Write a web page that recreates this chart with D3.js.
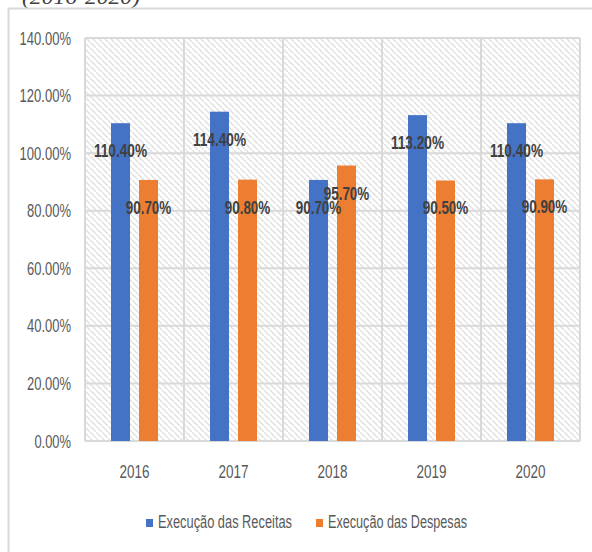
<!DOCTYPE html>
<html><head><meta charset="utf-8">
<script src="https://cdn.jsdelivr.net/npm/d3@7"></script>
<style>body{margin:0;background:#fff}svg{display:block}</style>
</head><body>
<script>
const years = ["2016","2017","2018","2019","2020"];
const seriesNames = ["Execução das Receitas","Execução das Despesas"];
const receitas = [110.4, 114.4, 90.7, 113.2, 110.4];
const despesas = [90.7, 90.8, 95.7, 90.5, 90.9];
const yTicks = [0,20,40,60,80,100,120,140];
const colors = ["#4472C4","#ED7D31"];
const title = "(2016-2020)";

const W=592,H=552;
const svg=d3.select("body").append("svg").attr("width",W).attr("height",H);
const defs=svg.append("defs");
const pat=defs.append("pattern").attr("id","hatch").attr("patternUnits","userSpaceOnUse")
  .attr("width",6).attr("height",6);
pat.append("rect").attr("width",6).attr("height",6).attr("fill","#fff");
pat.append("path").attr("d","M-1.5,-1.5L1.5,1.5M0,0L6,6M4.5,4.5L7.5,7.5")
  .attr("stroke","#e0e0e0").attr("stroke-width",1.4);

// title (clipped at top)
svg.append("text").attr("x",22).attr("y",4).attr("font-family","Liberation Serif, serif")
  .attr("font-style","italic").attr("font-size",22).attr("fill","#404040")
  .attr("textLength",118).attr("lengthAdjust","spacingAndGlyphs").text(title);

// outer frame
svg.append("path").attr("d","M8.5,552V8.5H592").attr("fill","none").attr("stroke","#d9d9d9").attr("stroke-width",2);

const x=d3.scaleBand().domain(years).range([85,580]).padding(0);
const xs=d3.scaleBand().domain([0,1]).range([0,x.bandwidth()]).paddingInner(9/28).paddingOuter(0.9286);
const y=d3.scaleLinear().domain([0,140]).range([441,38]);

// plot background
svg.append("rect").attr("x",85).attr("y",y(140)).attr("width",495).attr("height",y(0)-y(140)).attr("fill","url(#hatch)");

// gridlines
const g=svg.append("g");
g.selectAll(".hg").data(yTicks).join("line").attr("x1",85).attr("x2",580)
  .attr("y1",d=>y(d)).attr("y2",d=>y(d)).attr("stroke","#d9d9d9").attr("stroke-width",2);
g.selectAll(".vg").data(years.concat(["end"])).join("line")
  .attr("x1",(d,i)=>i<years.length?x(d):x(years[years.length-1])+x.bandwidth())
  .attr("x2",(d,i)=>i<years.length?x(d):x(years[years.length-1])+x.bandwidth())
  .attr("y1",y(140)).attr("y2",y(0)).attr("stroke","#d9d9d9").attr("stroke-width",2);

// y axis labels
svg.append("g").selectAll("text").data(yTicks).join("text")
  .attr("x",71).attr("y",d=>y(d)+6.5).attr("text-anchor","end")
  .attr("font-family","Liberation Sans Narrow, Liberation Sans, sans-serif").attr("font-size",18.5)
  .attr("fill","#595959")
  .attr("textLength",d=>d3.format(".2f")(d).length*7.4+7).attr("lengthAdjust","spacingAndGlyphs")
  .text(d=>d3.format(".2f")(d)+"%");

// x labels
svg.append("g").selectAll("text").data(years).join("text")
  .attr("x",d=>x(d)+x.bandwidth()/2).attr("y",478).attr("text-anchor","middle")
  .attr("font-family","Liberation Sans Narrow, Liberation Sans, sans-serif").attr("font-size",18.5)
  .attr("fill","#595959").attr("textLength",30).attr("lengthAdjust","spacingAndGlyphs").text(d=>d);

// bars
const data=[];
years.forEach((yr,i)=>{data.push({yr,s:0,v:receitas[i]});data.push({yr,s:1,v:despesas[i]});});
svg.append("g").selectAll("rect").data(data).join("rect")
  .attr("x",d=>x(d.yr)+xs(d.s)).attr("width",xs.bandwidth())
  .attr("y",d=>y(d.v)).attr("height",d=>y(0)-y(d.v)).attr("fill",d=>colors[d.s]);

// labels
const fmt=v=>v.toFixed(2)+"%";
svg.append("g").selectAll("text").data(data).join("text")
  .attr("x",d=>x(d.yr)+xs(d.s)+xs.bandwidth()/2).attr("y",d=>y(d.v)+34)
  .attr("text-anchor","middle")
  .attr("font-family","Liberation Sans Narrow, Liberation Sans, sans-serif").attr("font-weight","bold")
  .attr("font-size",18.5).attr("fill","#404040")
  .attr("textLength",d=>fmt(d.v).length*7.6).attr("lengthAdjust","spacingAndGlyphs")
  .text(d=>fmt(d.v));

// legend
const leg=svg.append("g");
const legX=[146,316], legW=[134,139];
seriesNames.forEach((n,i)=>{
  leg.append("rect").attr("x",legX[i]).attr("y",519).attr("width",7).attr("height",8).attr("fill",colors[i]);
  leg.append("text").attr("x",legX[i]+12).attr("y",528)
    .attr("font-family","Liberation Sans Narrow, Liberation Sans, sans-serif").attr("font-size",17.5)
    .attr("fill","#595959").attr("textLength",legW[i]).attr("lengthAdjust","spacingAndGlyphs").text(n);
});
</script>
</body></html>
